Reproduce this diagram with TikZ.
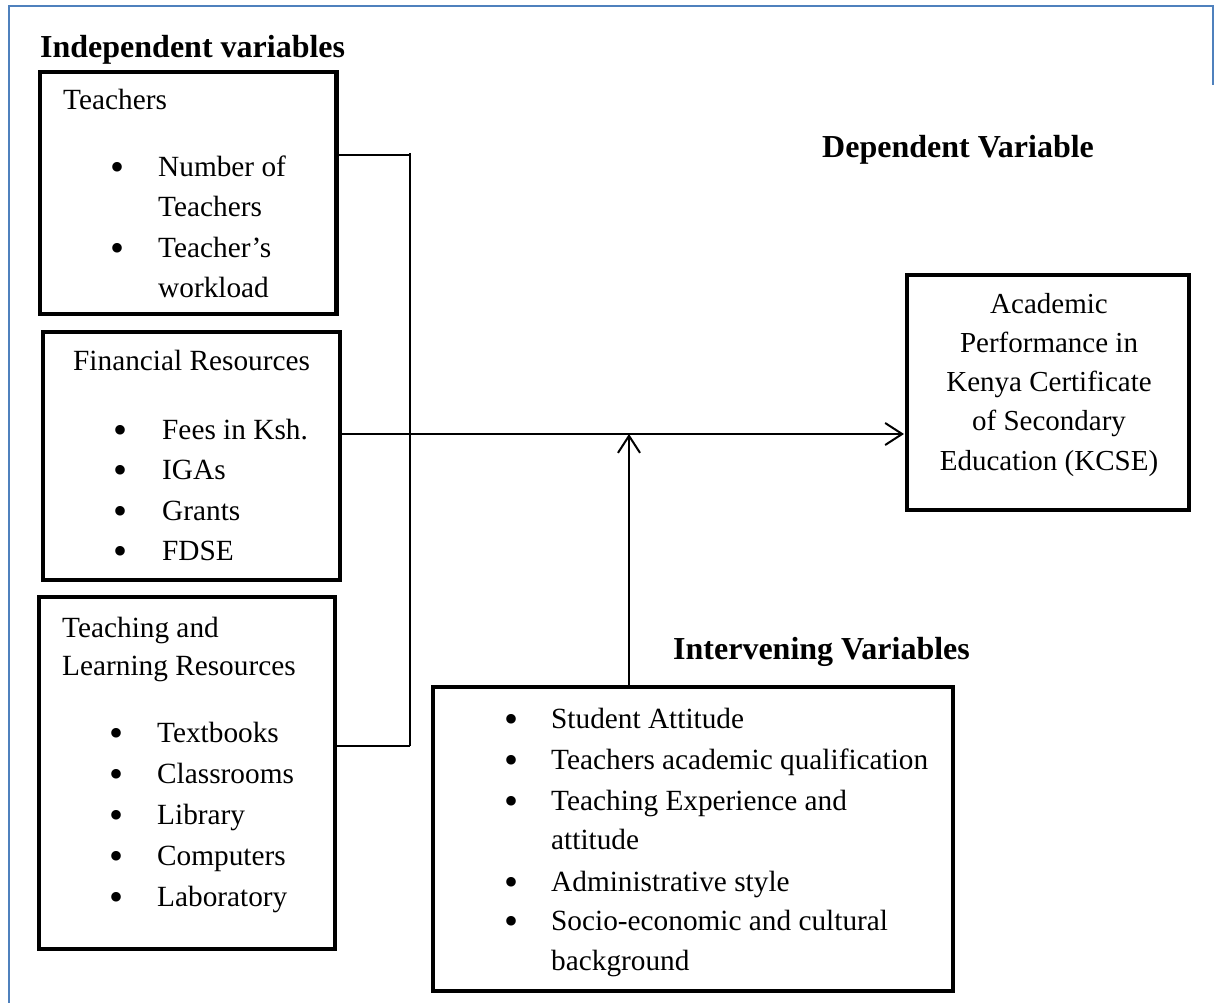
\documentclass[tikz,border=0pt]{standalone}
\usepackage{fontspec}
\setmainfont{Liberation Serif}
\usetikzlibrary{arrows.meta}
\definecolor{wordblue}{HTML}{4F81BD}
\tikzset{
  box/.style={draw, line width=4.5pt, inner sep=0pt, outer sep=0pt, anchor=north west},
  conn/.style={line width=2pt},
  tip/.style={-{Straight Barb[length=17pt,width=22pt,line width=2pt]}},
  txt/.style={anchor=base west, inner sep=0pt, font=\fontsize{29.3}{32}\selectfont},
  ctxt/.style={anchor=base, inner sep=0pt, font=\fontsize{29}{32}\selectfont},
  bul/.style={anchor=base, inner sep=0pt, yshift=-4pt, font=\fontsize{40}{40}\selectfont},
  head/.style={anchor=base west, inner sep=0pt, font=\fontsize{32}{34}\selectfont\bfseries},
}
\begin{document}
\begin{tikzpicture}[x=1pt,y=-1pt]
\useasboundingbox (0,0) rectangle (1215,1003);
% page frame
\draw[wordblue, line width=1.5pt] (9,1003) -- (9,6) -- (1213,6) -- (1213,85);

% headings
\node[head] (hind) at (40,58) {Independent variables};
\node[head] (hdep) at (822,158) {Dependent Variable};
\node[head] (hint) at (673,659) {Intervening Variables};

% boxes
\node[box, minimum width=296.5pt, minimum height=242pt] (T) at (40,72) {};
\node[box, minimum width=297pt, minimum height=248pt] (F) at (43,332) {};
\node[box, minimum width=296pt, minimum height=352pt] (L) at (39,597) {};
\node[box, minimum width=282pt, minimum height=235pt] (A) at (907,275) {};
\node[box, minimum width=520pt, minimum height=304pt] (I) at (433,687) {};

% Teachers
\node[txt] (t0) at (63,110) {Teachers};
\node[bul] (tb1) at (118,177) {•};
\node[txt] (t1) at (158,177) {Number of};
\node[txt] (t2) at (158,217) {Teachers};
\node[bul] (tb2) at (118,257) {•};
\node[txt] (t3) at (158,257) {Teacher’s};
\node[txt] (t4) at (158,297) {workload};

% Financial
\node[txt] (f0) at (73,370) {Financial Resources};
\node[bul] (fb1) at (121,439) {•};
\node[txt] (f1) at (162,439) {Fees in Ksh.};
\node[bul] (fb2) at (121,479) {•};
\node[txt] (f2) at (162,479) {IGAs};
\node[bul] (fb3) at (121,520) {•};
\node[txt] (f3) at (162,520) {Grants};
\node[bul] (fb4) at (121,560) {•};
\node[txt] (f4) at (162,560) {FDSE};

% Teaching and learning
\node[txt] (l0) at (62,637) {Teaching and};
\node[txt] (l00) at (62,675) {Learning Resources};
\node[bul] (lb1) at (117,742) {•};
\node[txt] (l1) at (157,742) {Textbooks};
\node[bul] (lb2) at (117,783) {•};
\node[txt] (l2) at (157,783) {Classrooms};
\node[bul] (lb3) at (117,824) {•};
\node[txt] (l3) at (157,824) {Library};
\node[bul] (lb4) at (117,865) {•};
\node[txt] (l4) at (157,865) {Computers};
\node[bul] (lb5) at (117,906) {•};
\node[txt] (l5) at (157,906) {Laboratory};

% Academic performance
\node[ctxt] (a1) at (1049,313) {Academic};
\node[ctxt] (a2) at (1049,352) {Performance in};
\node[ctxt] (a3) at (1049,391) {Kenya Certificate};
\node[ctxt] (a4) at (1049,430) {of Secondary};
\node[ctxt] (a5) at (1049,470) {Education (KCSE)};

% Intervening
\node[bul] (ib1) at (511,728) {•};
\node[txt] (i1) at (551,728) {Student Attitude};
\node[bul] (ib2) at (511,769) {•};
\node[txt] (i2) at (551,769) {Teachers academic qualification};
\node[bul] (ib3) at (511,810) {•};
\node[txt] (i3) at (551,810) {Teaching Experience and};
\node[txt] (i4) at (551,849) {attitude};
\node[bul] (ib4) at (511,891) {•};
\node[txt] (i5) at (551,891) {Administrative style};
\node[bul] (ib5) at (511,930) {•};
\node[txt] (i6) at (551,930) {Socio-economic and cultural};
\node[txt] (i7) at (551,970) {background};

% connectors
\coordinate (jt) at (410,155.5);
\coordinate (jf) at (410,434);
\coordinate (jl) at (410,745.5);
\coordinate (jtop) at (410,153);
\coordinate (ji) at (629,434);

\draw[conn] (T.east |- jt) -- (jt);
\draw[conn] (L.east |- jl) -- (jl);
\draw[conn] (jtop) -- (jl);
\draw[conn] (F.east |- jf) -- (jf);
\draw[conn, tip, shorten >=3pt] (jf) -- (A.west |- jf);
\draw[conn, tip] (I.north -| ji) -- (ji);
\end{tikzpicture}
\end{document}
